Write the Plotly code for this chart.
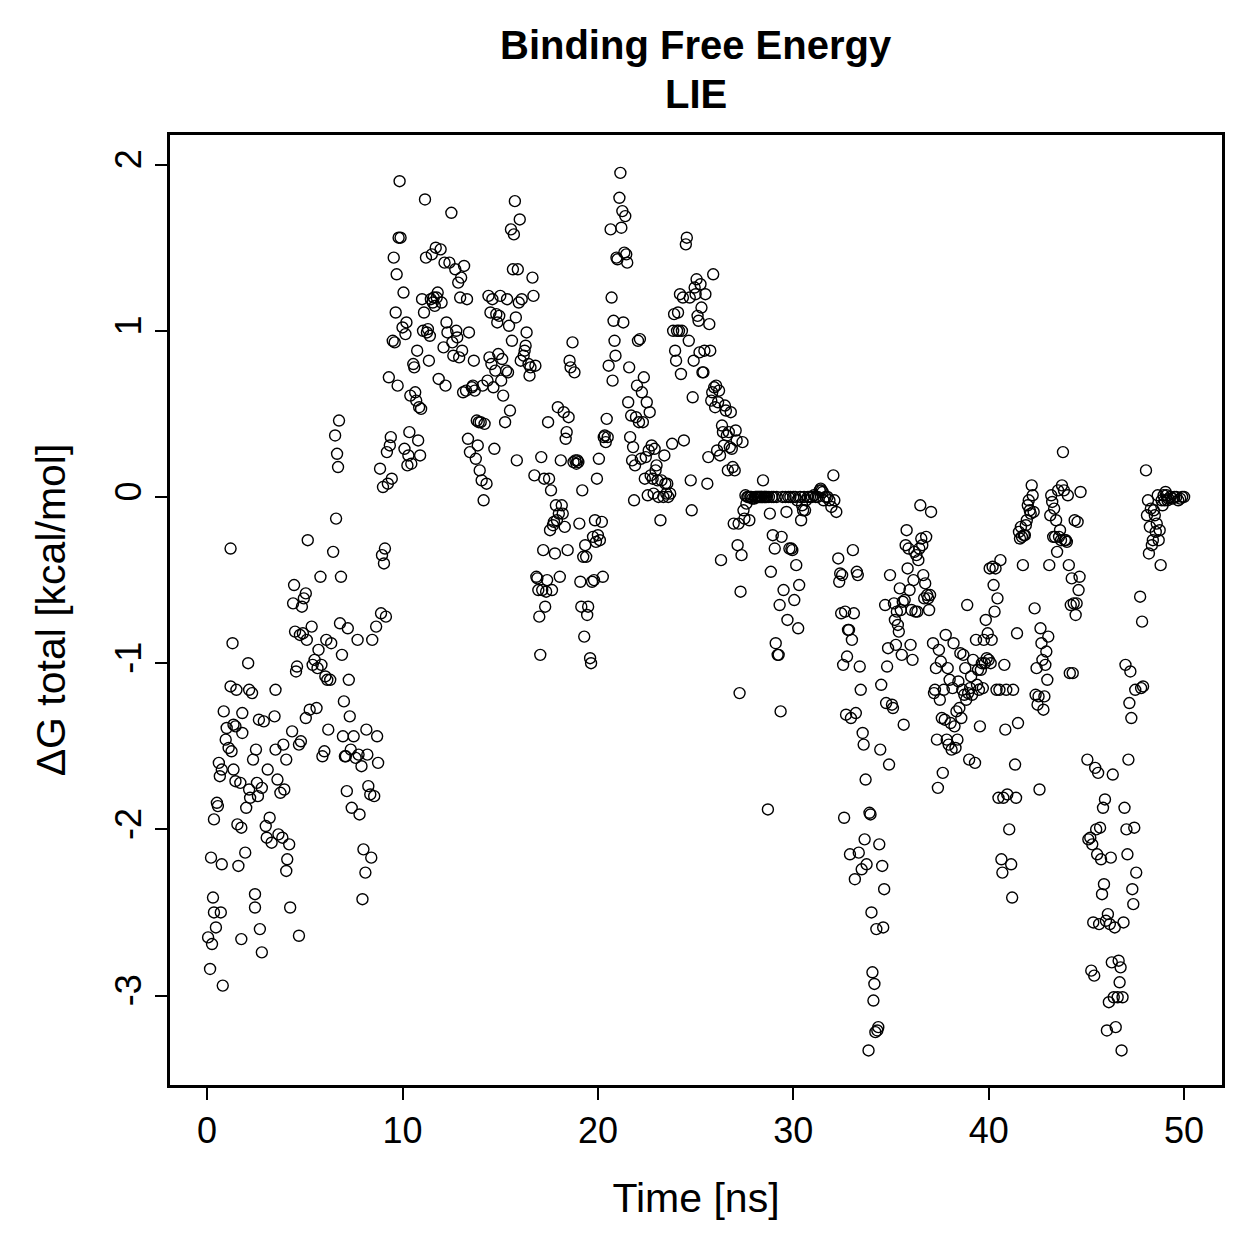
import plotly.graph_objects as go

time_ns = [
 0.05,0.15,0.25,0.2,0.3,0.35,0.45,0.35,0.55,0.5,0.6,0.65,0.75,0.7,0.75,0.8,0.85,0.95,1.0,1.1,
 1.2,1.2,1.25,1.3,1.35,1.35,1.45,1.45,1.5,1.55,1.6,1.7,1.75,1.75,1.8,1.8,1.95,2.0,2.1,2.15,
 2.15,2.2,2.3,2.35,2.45,2.45,2.5,2.55,2.6,2.65,2.7,2.8,2.8,2.9,3.0,3.05,3.1,3.2,3.3,3.45,
 3.5,3.5,3.6,3.65,3.75,3.85,3.9,3.95,4.05,4.05,4.1,4.2,4.25,4.35,4.4,4.45,4.5,4.55,4.6,4.7,
 4.7,4.75,4.8,4.85,4.9,4.95,
 5.05,5.05,5.1,5.15,5.25,5.35,5.4,5.5,5.6,5.65,5.7,5.8,5.85,5.9,6.0,6.05,6.1,6.15,6.2,6.3,
 6.35,6.45,6.55,6.6,6.65,6.7,6.75,6.8,6.85,6.9,6.95,7.0,7.05,7.1,7.15,7.2,7.25,7.3,7.35,7.4,
 7.5,7.6,7.7,7.75,7.8,7.9,7.95,8.0,8.1,8.15,8.2,8.25,8.35,8.4,8.45,8.55,8.65,8.7,8.75,8.85,
 8.9,8.95,9.0,9.05,9.1,9.15,9.2,9.25,9.3,9.35,9.4,9.45,9.5,9.55,9.6,9.65,9.7,9.75,9.8,9.85,
 9.9,10.0,10.05,10.1,10.15,10.2,10.25,10.3,10.35,10.4,10.45,10.55,10.6,10.65,10.7,10.75,10.8,10.85,10.9,10.95,
 11.0,11.05,11.1,11.15,11.2,11.25,11.3,11.35,11.4,11.45,11.5,11.55,11.6,11.65,11.7,11.75,11.8,11.85,11.95,12.0,
 12.1,12.15,12.2,12.25,12.3,12.4,12.5,12.55,12.6,12.7,12.75,12.8,12.85,12.9,12.95,13.0,13.05,13.1,13.15,13.25,
 13.3,13.35,13.4,13.45,13.55,13.6,13.65,13.7,13.75,13.8,13.85,13.9,13.95,14.0,14.05,14.1,14.15,14.2,14.3,14.35,
 14.4,14.45,14.5,14.55,14.6,14.65,14.7,14.75,14.8,14.85,14.9,14.95,15.0,15.05,15.1,15.15,15.25,15.3,15.35,15.4,
 15.45,15.5,15.55,15.6,15.65,15.7,15.75,15.8,15.85,15.9,15.95,16.0,16.05,16.1,16.2,16.25,16.3,16.35,16.45,16.5,
 16.55,16.65,16.7,16.8,16.75,
 16.85,16.9,16.95,17.0,17.05,17.1,17.15,17.2,17.25,17.3,17.35,17.4,17.45,17.5,17.55,17.6,17.65,17.7,17.75,17.8,
 17.85,17.9,17.95,18.0,18.05,18.1,18.15,18.2,18.25,18.3,18.35,18.4,18.45,18.5,18.55,18.6,18.7,18.75,18.8,18.85,
 18.9,18.95,19.0,19.05,19.1,19.15,19.2,19.25,19.3,19.35,19.4,19.45,19.5,19.6,19.65,19.7,19.75,19.8,19.85,19.9,
 19.95,20.0,20.05,20.1,20.2,20.25,20.3,20.35,20.4,20.45,20.5,20.55,20.65,20.7,20.75,20.8,20.85,20.9,20.95,21.0,
 21.1,21.15,21.2,21.25,21.3,21.35,21.4,21.45,21.5,21.55,21.6,21.65,21.7,21.75,21.8,21.85,21.9,21.95,22.0,22.05,
 22.1,22.15,22.2,22.25,22.3,22.35,22.4,22.45,22.5,22.55,22.6,22.65,22.7,22.75,22.8,22.85,22.9,22.95,23.0,23.05,
 23.1,23.2,23.25,23.35,23.4,23.45,23.5,23.55,23.6,23.7,23.8,23.85,23.9,23.95,24.0,24.05,24.1,24.15,24.2,24.25,
 24.3,24.35,24.4,24.5,24.55,24.65,24.7,24.75,24.8,24.85,24.9,24.95,25.0,25.05,25.1,25.15,25.2,25.25,25.3,25.35,
 25.4,25.45,25.5,25.6,25.65,25.7,25.75,25.8,25.85,25.9,25.95,26.0,26.05,26.1,26.15,26.2,26.25,26.3,26.35,26.4,
 26.45,26.5,26.55,26.6,26.65,26.7,26.75,26.8,26.85,26.9,26.95,27.0,27.05,27.1,27.15,27.2,27.25,27.3,27.35,27.4,
 27.45,27.5,27.55,27.6,27.65,27.7,27.75,27.8,27.85,27.9,28.0,28.05,28.1,28.15,28.2,28.25,28.3,28.35,28.4,28.45,
 28.5,28.55,28.6,28.65,28.7,28.75,28.8,28.85,28.9,28.95,29.0,29.05,29.1,29.15,29.2,29.25,29.3,29.35,29.4,29.45,
 29.5,29.6,29.65,29.7,29.75,29.8,29.85,29.9,29.95,30.0,30.05,30.1,30.15,30.2,30.25,30.3,30.35,30.4,30.45,30.5,
 30.55,30.6,30.65,30.75,30.85,30.95,31.05,31.15,31.25,31.35,31.4,31.45,31.5,31.55,31.65,31.75,31.85,31.95,32.05,32.1,
 32.2,32.3,32.35,32.4,32.45,32.5,32.55,32.6,32.65,32.7,32.75,32.8,32.85,32.9,32.95,33.0,33.05,33.1,33.15,33.2,
 33.25,33.3,33.35,33.4,33.45,33.5,33.55,33.6,33.65,33.7,33.75,33.85,33.9,33.95,34.0,34.05,34.1,34.15,34.2,34.25,
 34.3,34.35,34.4,34.45,34.5,34.55,34.6,34.65,34.7,34.75,34.8,34.85,34.9,34.95,35.05,35.1,35.15,35.2,35.25,35.3,
 35.35,35.4,35.45,35.5,35.55,35.6,35.65,35.7,35.75,35.8,35.85,35.9,35.95,36.0,36.05,36.1,36.15,36.2,36.25,36.3,
 36.35,36.4,36.45,36.5,36.55,36.6,36.65,36.7,36.75,36.8,36.85,36.9,36.95,37.0,37.05,37.15,37.2,37.25,37.3,37.35,
 37.4,37.45,37.5,37.55,37.6,37.65,37.7,37.75,37.8,37.85,37.9,37.95,38.0,38.05,38.1,38.15,38.2,38.25,38.3,38.35,
 38.4,38.45,38.5,38.55,38.6,38.65,38.7,38.75,38.8,38.85,38.9,38.95,39.0,39.05,39.1,39.15,39.2,39.3,39.35,39.4,
 39.45,39.5,39.55,39.6,39.65,39.7,39.75,39.8,39.85,39.9,39.95,40.0,40.05,40.1,40.15,40.2,40.25,40.3,40.35,40.4,
 40.45,40.5,40.55,40.6,40.65,40.7,40.75,40.8,40.85,40.9,40.95,41.05,41.15,41.2,41.25,41.35,41.4,41.45,41.5,41.55,
 41.6,41.65,41.7,41.75,41.8,41.85,41.9,41.95,42.0,42.05,42.1,42.15,42.2,42.25,42.3,42.35,42.4,42.45,42.5,42.55,
 42.6,42.65,42.7,42.75,42.8,42.85,42.9,42.95,43.0,43.05,43.1,43.15,43.2,43.25,43.3,43.35,43.4,43.45,43.5,43.55,
 43.6,43.65,43.7,43.75,43.8,43.85,43.9,43.95,44.0,44.05,44.1,44.15,44.2,44.25,44.3,44.35,44.4,44.45,44.5,44.55,
 44.6,44.65,44.7,45.05,45.1,45.2,45.25,45.3,45.35,45.4,45.45,45.5,45.55,45.6,45.65,45.7,45.75,45.8,45.85,45.9,
 45.95,46.0,46.05,46.1,46.15,46.2,46.25,46.3,46.35,46.4,46.45,46.5,46.6,46.65,46.7,46.75,46.8,46.85,46.9,46.95,
 47.0,47.05,47.1,47.15,47.2,47.25,47.3,47.35,47.4,47.45,47.5,47.55,47.75,47.8,47.85,47.9,48.05,48.1,48.15,48.2,
 48.25,48.3,48.35,48.4,48.45,48.5,48.55,48.6,48.65,48.7,48.75,48.8,48.85,48.9,48.95,49.0,49.05,49.1,49.15,49.2,
 49.3,49.4,49.5,49.6,49.7,49.8,49.9,50.0,
]

delta_g = [
 -2.65,-2.84,-2.69,-2.17,-2.41,-2.5,-2.59,-1.94,-1.86,-1.84,-1.6,-1.68,-2.21,-2.5,-1.64,-2.94,-1.29,-1.46,-1.39,-1.51,
 -1.14,-0.31,-1.53,-0.88,-1.37,-1.64,-1.38,-1.71,-1.16,-1.97,-2.22,-1.72,-2.66,-1.99,-1.3,-1.42,-2.14,-1.87,-1.0,-1.16,
 -1.76,-1.81,-1.18,-1.58,-2.39,-2.47,-1.52,-1.72,-1.8,-1.34,-2.6,-2.74,-1.75,-1.35,-1.98,-2.05,-1.64,-1.93,-2.08,-1.32,
 -1.16,-1.52,-1.7,-2.03,-1.78,-2.05,-1.49,-1.76,-1.58,-2.25,-2.18,-2.09,-2.47,-1.41,-0.64,-0.53,-0.81,-1.05,-1.02,-2.64,
 -1.49,-0.83,-1.47,-0.66,-0.82,-0.61,
 -0.58,-1.33,-0.86,-0.26,-1.28,-0.78,-1.01,-0.98,-1.27,-1.03,-0.92,-0.48,-1.01,-1.56,-1.53,-1.08,-0.86,-1.1,-1.4,-1.1,
 -0.88,-0.33,0.37,-0.13,0.26,0.18,0.46,-0.76,-0.48,-0.95,-1.44,-1.23,-1.56,-1.56,-1.77,-0.79,-1.1,-1.32,-1.52,-1.87,
 -1.44,-1.57,-0.86,-1.55,-1.91,-1.62,-2.42,-2.12,-2.26,-1.4,-1.55,-1.74,-1.79,-2.17,-0.86,-1.8,-0.78,-1.44,-1.6,0.17,
 -0.7,-0.35,0.06,-0.4,-0.31,-0.72,0.27,0.08,0.72,0.31,0.36,0.11,0.94,1.44,0.93,1.11,1.34,0.67,1.56,1.9,
 1.56,1.02,1.23,0.29,0.98,1.05,0.19,0.25,0.39,0.61,0.2,0.8,0.78,0.63,0.58,0.88,0.34,0.54,0.25,0.53,
 1.19,1.0,1.11,1.79,1.44,0.99,1.01,0.82,0.97,1.19,1.46,1.17,1.2,1.15,1.5,1.2,1.23,0.71,1.49,1.17,
 0.9,1.41,0.67,1.05,0.99,1.41,1.71,0.93,0.85,1.37,1.0,0.96,1.29,0.84,1.2,1.32,0.88,0.63,1.39,0.64,
 1.19,0.35,0.99,0.27,0.66,0.67,0.82,0.64,0.23,0.46,0.31,0.45,0.16,0.45,0.1,0.67,-0.02,0.44,0.08,0.7,
 1.21,0.84,1.11,0.8,1.19,0.66,0.29,0.76,1.1,1.05,0.86,1.09,1.21,0.7,0.83,0.61,0.45,0.76,1.19,0.75,
 1.03,0.52,1.61,0.94,1.37,1.58,1.78,1.08,0.22,1.37,1.17,1.67,0.82,1.19,0.85,0.88,0.91,0.99,0.8,0.73,
 0.78,1.32,1.21,0.79,0.13,
 -0.48,-0.49,-0.56,-0.72,-0.95,0.24,-0.56,-0.32,0.11,-0.66,-0.57,-0.5,0.45,0.11,-0.2,0.04,-0.56,-0.17,-0.15,-0.34,
 -0.05,-0.14,0.54,-0.1,-0.48,0.22,-0.05,-0.1,0.51,-0.18,0.35,0.39,-0.32,0.48,0.82,0.78,0.93,0.21,0.75,0.22,
 0.2,0.22,0.21,-0.16,-0.51,-0.66,0.04,-0.36,-0.84,-0.29,-0.36,-0.71,-0.66,-0.97,-1.0,-0.51,-0.24,-0.5,-0.14,-0.27,
 0.11,-0.23,0.23,-0.26,-0.15,-0.48,0.36,0.37,0.33,0.47,0.36,0.79,1.61,1.2,0.7,1.06,0.94,0.85,1.44,1.43,
 1.8,1.95,1.62,1.72,1.05,1.47,1.69,1.46,1.41,0.57,0.78,0.36,0.49,0.22,0.3,-0.02,0.19,0.48,0.67,0.94,
 0.45,0.95,0.23,0.63,0.45,0.72,0.11,0.24,0.57,0.01,0.28,0.51,0.13,0.31,0.11,0.02,0.29,0.16,0.19,0.1,
 0.0,-0.14,0.1,0.0,0.25,0.08,0.02,0.08,0.0,0.02,0.32,1.0,1.1,0.88,0.82,1.0,1.11,1.0,1.22,0.74,
 1.0,1.2,0.34,1.52,1.56,0.94,1.2,0.1,-0.08,0.6,0.82,1.26,1.22,1.31,1.09,1.06,0.87,1.28,1.14,0.75,
 0.75,0.88,1.22,0.08,0.24,1.04,0.88,0.58,0.63,1.34,0.66,0.54,0.67,0.28,0.57,0.64,0.25,-0.38,0.43,0.39,
 0.31,0.55,0.52,0.37,0.16,0.39,0.3,0.51,0.29,0.18,-0.16,0.16,0.4,0.34,-0.29,-0.16,-1.18,-0.57,-0.35,0.33,
 -0.08,-0.13,0.01,-0.04,0.0,0.0,-0.14,0.0,0.0,-0.01,-0.01,0.0,0.0,0.0,0.0,0.0,0.0,0.0,0.0,0.1,
 0.0,0.0,0.0,0.0,-1.88,0.0,-0.1,-0.45,0.0,-0.23,0.0,-0.31,-0.88,0.0,-0.95,-0.95,-0.65,-1.29,-0.24,0.0,
 -0.56,0.0,-0.09,-0.74,0.0,-0.31,0.0,-0.31,-0.32,0.0,-0.62,0.0,-0.41,-0.02,-0.79,-0.53,0.0,-0.14,-0.05,-0.08,
 0.0,-0.08,-0.02,0.0,0.0,0.0,0.01,0.0,0.0,0.04,0.05,0.04,0.03,-0.02,0.0,0.0,-0.02,-0.06,0.13,-0.02,
 -0.09,-0.37,-0.51,-0.46,-0.7,-0.47,-1.01,-1.93,-0.69,-1.31,-0.96,-0.8,-0.8,-2.15,-1.33,-0.86,-0.32,-0.7,-2.3,-1.3,
 -0.45,-0.47,-2.14,-1.02,-1.16,-2.24,-1.42,-1.49,-2.06,-1.7,-2.21,-3.33,-1.9,-1.91,-2.5,-2.86,-3.03,-2.93,-3.22,-2.6,
 -3.21,-3.19,-2.09,-1.52,-1.13,-2.22,-2.59,-2.36,-0.65,-1.24,-1.02,-0.91,-1.61,-0.47,-1.25,-1.27,-0.64,-0.74,-0.89,-0.69,
 -0.77,-0.81,-0.55,-0.68,-0.95,-0.63,-1.37,-0.62,-0.29,-0.2,-0.43,-0.31,-0.56,-0.89,-0.68,-0.98,-0.5,-0.33,-0.69,-0.35,
 -0.69,-0.38,-0.31,-0.05,-0.25,-0.29,-0.47,-0.61,-0.52,-0.24,-0.59,-0.61,-0.68,-0.59,-0.09,-0.88,-1.18,-1.16,-1.03,-1.46,
 -1.75,-0.92,-1.22,-0.99,-1.33,-1.66,-1.16,-1.34,-0.83,-1.46,-1.03,-1.49,-1.1,-1.36,-1.52,-1.15,-0.88,-1.38,-1.51,-1.29,
 -1.46,-1.11,-1.27,-0.94,-1.33,-1.16,-0.95,-1.19,-1.03,-1.22,-0.65,-1.18,-1.58,-1.15,-1.08,-1.19,-0.98,-1.6,-0.86,-1.13,
 -1.04,-1.16,-1.38,-1.04,-1.0,-1.15,-0.86,-1.0,-0.74,-0.97,-0.82,-0.98,-0.43,-1.0,-0.86,-0.42,-0.53,-0.69,-0.43,-1.16,
 -0.61,-1.81,-1.16,-0.38,-2.18,-2.26,-1.81,-1.01,-1.4,-1.16,-1.79,-2.0,-2.21,-2.41,-1.16,-1.61,-1.81,-0.82,-1.36,-0.21,
 -0.25,-0.18,-0.24,-0.41,-0.23,-0.23,-0.17,-0.14,-0.05,-0.02,-0.08,-0.1,0.07,0.01,-0.09,-0.67,-1.19,-1.03,-1.25,-1.2,
 -1.76,-0.79,-0.88,-0.98,-1.28,-1.2,-1.01,-0.93,-1.1,-0.84,-0.41,-0.11,0.01,-0.03,-0.24,-0.07,-0.24,-0.14,-0.33,0.04,
 -0.24,-0.2,-0.26,0.07,0.27,0.04,-0.26,-0.26,-0.27,0.01,-0.41,-1.06,-0.65,-0.49,-1.06,-0.64,-0.14,-0.71,-0.64,-0.15,
 -0.56,-0.48,0.03,-1.58,-2.06,-2.05,-2.85,-2.09,-2.56,-2.88,-1.63,-2.0,-2.15,-1.66,-2.57,-1.99,-2.18,-2.39,-1.87,-2.33,
 -1.82,-2.55,-3.21,-2.51,-3.04,-2.57,-2.17,-2.8,-1.67,-3.01,-2.59,-3.19,-3.01,-2.79,-2.92,-2.83,-3.33,-3.01,-2.56,-1.87,
 -1.01,-2.0,-2.15,-1.58,-1.24,-1.05,-1.33,-2.36,-2.45,-1.99,-1.16,-2.26,-0.6,-1.15,-0.75,-1.14,0.16,-0.11,-0.02,-0.34,
 -0.18,-0.07,-0.29,-0.26,-0.08,-0.11,-0.21,-0.16,0.01,-0.26,-0.2,-0.41,-0.02,-0.05,0.01,-0.02,0.03,0.01,-0.02,-0.01,
 0.0,-0.01,0.0,0.0,-0.02,-0.01,0.0,0.0,
]

x_ticks = [0, 10, 20, 30, 40, 50]
y_ticks = [-3, -2, -1, 0, 1, 2]
y_tick_labels = ["-3", "-2", "-1", "0", "1", "2"]

n = min(len(time_ns), len(delta_g))

fig = go.Figure(go.Scatter(
    x=time_ns[:n], y=delta_g[:n], mode="markers",
    marker=dict(symbol="circle-open", size=11, color="black", line=dict(width=1.4, color="black")),
    showlegend=False,
))

font_main = "Liberation Sans, Arial, Helvetica, sans-serif"

fig.update_layout(
    width=1259, height=1259,
    margin=dict(l=170, r=37, t=135, b=174),
    paper_bgcolor="white", plot_bgcolor="white",
    font=dict(family=font_main, color="black", size=36),
    annotations=[
        dict(text="<b>Binding Free Energy</b>", x=0.5, y=(1085 - 45) / 950, xref="paper", yref="paper",
             showarrow=False, xanchor="center", yanchor="middle", font=dict(size=40, family=font_main)),
        dict(text="<b>LIE</b>", x=0.5, y=(1085 - 94) / 950, xref="paper", yref="paper",
             showarrow=False, xanchor="center", yanchor="middle", font=dict(size=40, family=font_main)),
    ],
)

fig.update_xaxes(
    range=[-1.9, 51.94], tickvals=x_ticks, ticks="outside", ticklen=12, tickwidth=2, tickcolor="black",
    showline=True, linewidth=2.5, linecolor="black", mirror=True, showgrid=False, zeroline=False,
    tickfont=dict(size=36), title=dict(text="Time [ns]", font=dict(size=41), standoff=34),
    automargin=False,
)
fig.update_yaxes(
    range=[-3.538, 2.178], tickvals=y_ticks, ticktext=y_tick_labels, tickangle=-90,
    ticks="outside", ticklen=12, tickwidth=2, tickcolor="black",
    showline=True, linewidth=2.5, linecolor="black", mirror=True, showgrid=False, zeroline=False,
    tickfont=dict(size=36), title=dict(text="ΔG total [kcal/mol]", font=dict(size=41), standoff=30),
    automargin=False,
)

fig.write_html("out.html")
